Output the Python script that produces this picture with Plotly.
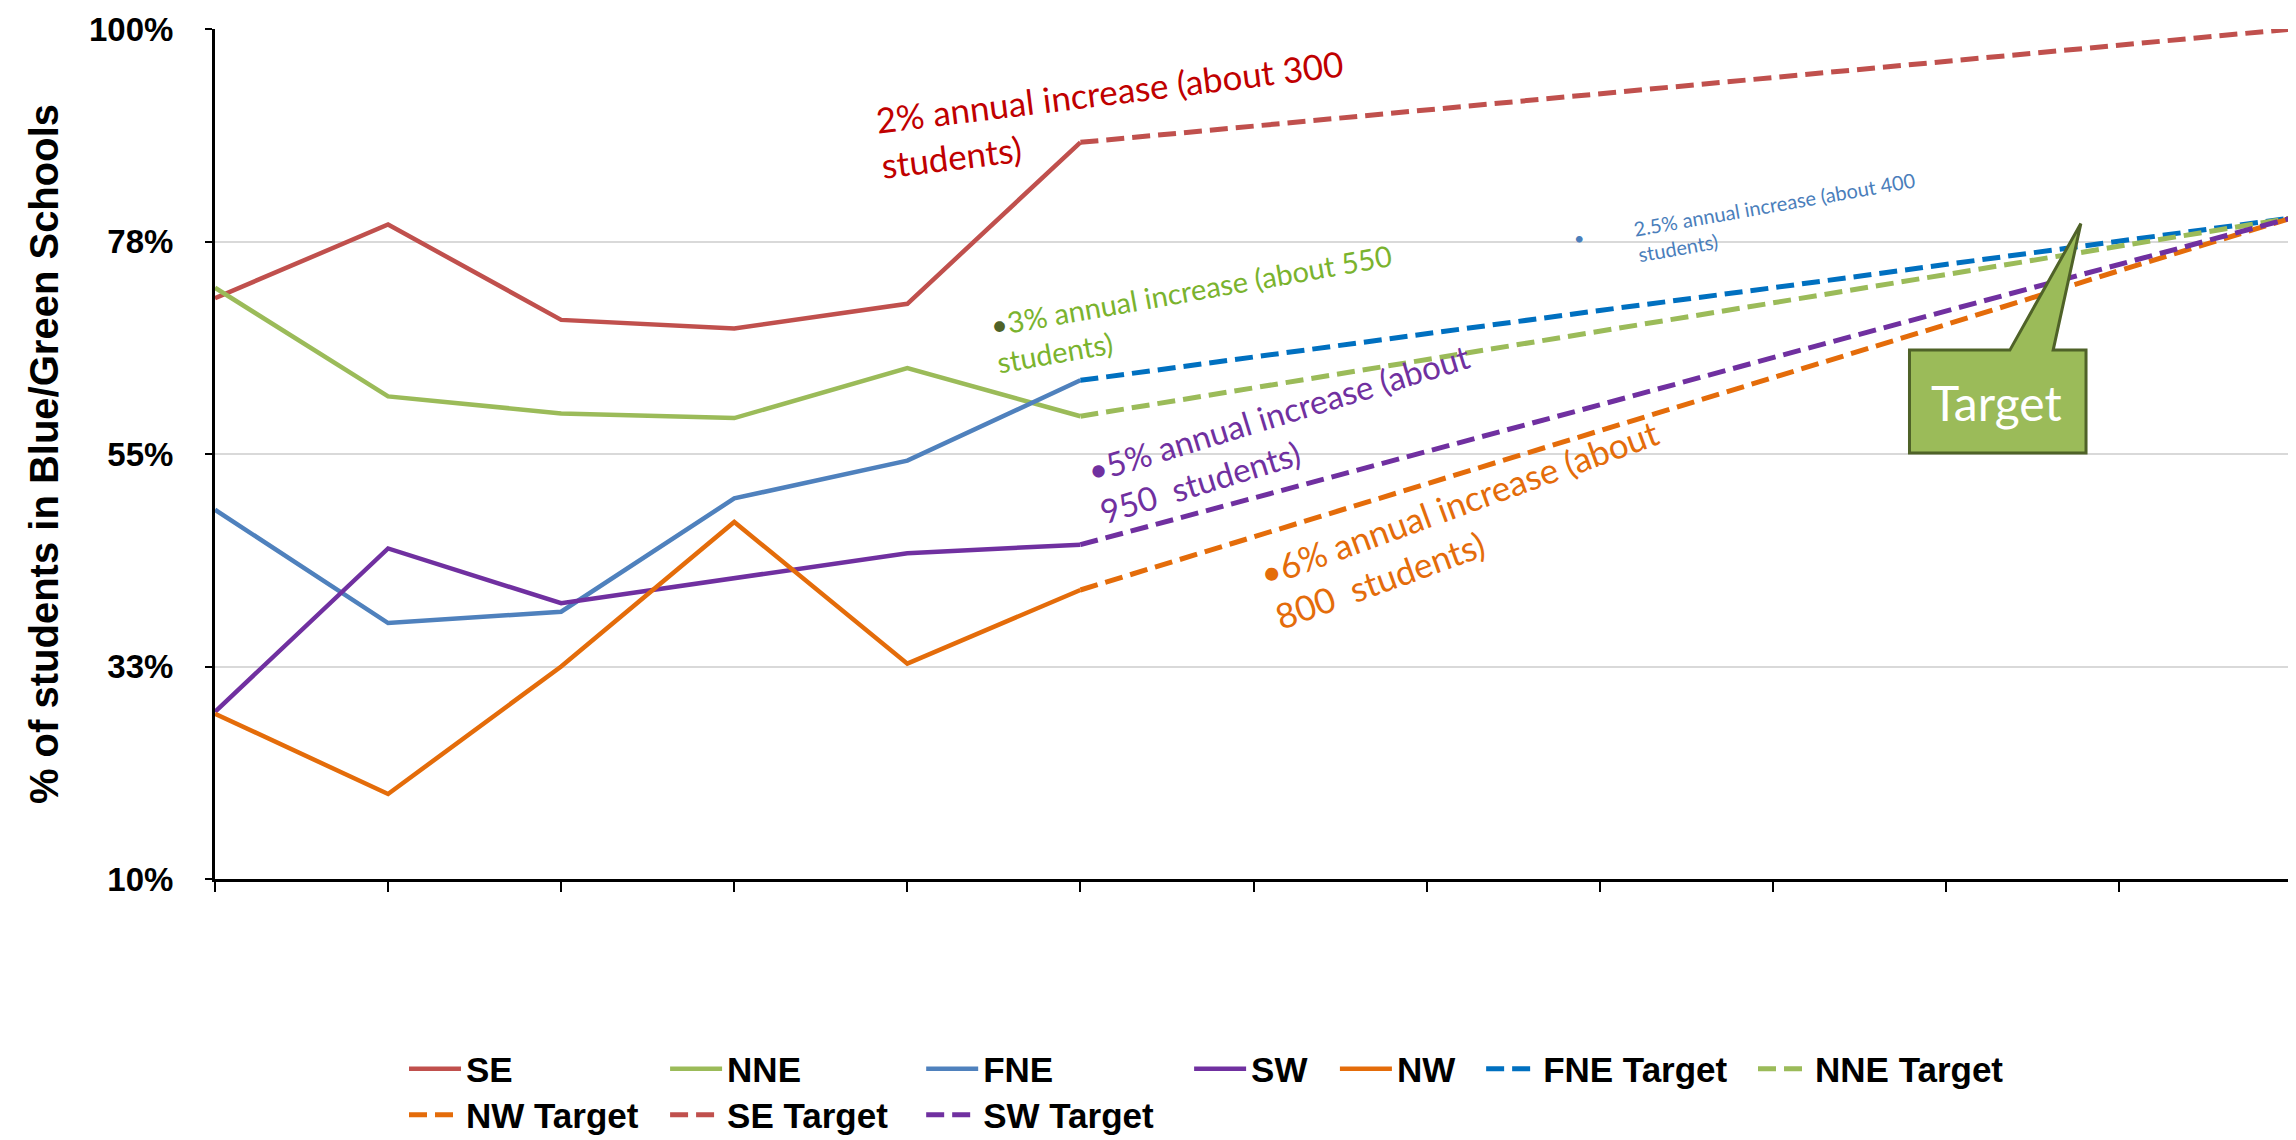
import plotly.graph_objects as go

# ---- data ----
x_actual = [0, 1, 2, 3, 4, 5]
x_target = [5, 6, 7, 8, 9, 10, 11, 12]

SE = [71.5, 79.3, 69.2, 68.3, 70.9, 88.0]
NNE = [72.6, 61.1, 59.3, 58.8, 64.1, 59.0]
FNE = [49.1, 37.1, 38.3, 50.3, 54.3, 62.8]
SW = [27.7, 45.0, 39.2, 41.9, 44.5, 45.4]
NW = [27.5, 19.0, 32.5, 47.8, 32.8, 40.6]

FNE_T = [62.8, 65.3, 67.7, 70.2, 72.6, 75.1, 77.6, 80.0]
NNE_T = [59.0, 62.0, 65.0, 68.0, 71.0, 74.0, 77.0, 80.0]
NW_T = [40.6, 46.2, 51.8, 57.4, 63.1, 68.7, 74.4, 80.0]
SE_T = [88.0, 89.7, 91.4, 93.1, 94.9, 96.6, 98.3, 100.0]
SW_T = [45.4, 50.3, 55.3, 60.2, 65.2, 70.1, 75.1, 80.0]

y_tickvals = [10, 32.5, 55, 77.5, 100]
y_ticktext = ["10%", "33%", "55%", "78%", "100%"]

C_SE, C_NNE, C_FNE, C_SW, C_NW = "#C0504D", "#9BBB59", "#4F81BD", "#7030A0", "#E46C0A"
C_FNE_T = "#0070C0"

BOLD = "Liberation Sans, Arial, sans-serif"
ANN = "Lato, Open Sans, sans-serif"

# legend placement: (legend id, paper x, paper y)
ROW1, ROW2 = -0.2235, -0.2776
series = [
    ("SE", x_actual, SE, C_SE, None, "legend", 0.0910, ROW1),
    ("NNE", x_actual, NNE, C_NNE, None, "legend2", 0.2167, ROW1),
    ("FNE", x_actual, FNE, C_FNE, None, "legend3", 0.3400, ROW1),
    ("SW", x_actual, SW, C_SW, None, "legend4", 0.4690, ROW1),
    ("NW", x_actual, NW, C_NW, None, "legend5", 0.5392, ROW1),
    ("FNE Target", x_target, FNE_T, C_FNE_T, "18px,8px", "legend6", 0.6096, ROW1),
    ("NNE Target", x_target, NNE_T, C_NNE, "18px,8px", "legend7", 0.7405, ROW1),
    ("NW Target", x_target, NW_T, C_NW, "18px,8px", "legend8", 0.0910, ROW2),
    ("SE Target", x_target, SE_T, C_SE, "18px,8px", "legend9", 0.2167, ROW2),
    ("SW Target", x_target, SW_T, C_SW, "18px,8px", "legend10", 0.3400, ROW2),
]

fig = go.Figure()
legend_layouts = {}
for name, xs, vals, col, dash, lg, lx, ly in series:
    line = dict(color=col, width=4.5 if dash is None else 5)
    if dash:
        line["dash"] = dash
    fig.add_trace(go.Scatter(x=xs, y=vals, mode="lines", name=name, line=line,
                             cliponaxis=False, legend=lg, hoverinfo="skip"))
    legend_layouts[lg] = dict(orientation="h", x=lx, y=ly, xanchor="left", yanchor="middle",
                              itemwidth=52, bgcolor="rgba(0,0,0,0)",
                              font=dict(family=BOLD, size=35, color="black", weight="bold"))

# Target callout shape
fig.add_shape(type="path",
              path="M 9.79,66 L 10.37,66 L 10.78,79.4 L 10.62,66 L 10.81,66 L 10.81,55.1 L 9.79,55.1 Z",
              xref="x", yref="y", fillcolor="#9BBB59",
              line=dict(color="#4F6228", width=3), layer="above")

annots = [
    dict(text="2% annual increase (about 300<br>students)", x=5.18, y=91.0, textangle=-7,
         font=dict(color="#C00000", size=35, family=ANN)),
    dict(text="<span style='color:#4F6228'>•</span>3% annual increase (about 550<br>students)",
         x=5.66, y=70.4, textangle=-10,
         font=dict(color="#7AB32E", size=29, family=ANN)),
    dict(text="2.5% annual increase (about 400<br>students)", x=9.02, y=80.1, textangle=-10,
         font=dict(color="#4A7EBB", size=20, family=ANN)),
    dict(text="•5% annual increase (about<br>950  students)", x=6.18, y=57.2, textangle=-17,
         font=dict(color="#7030A0", size=33, family=ANN)),
    dict(text="•6% annual increase (about<br>800  students)", x=7.23, y=47.6, textangle=-20,
         font=dict(color="#E46C0A", size=35, family=ANN)),
    dict(text="•", x=7.88, y=77.9, textangle=0,
         font=dict(color="#4A7EBB", size=18, family=ANN)),
    dict(text="Target", x=10.29, y=60.5, textangle=0,
         font=dict(color="white", size=48, family=ANN)),
]
for a in annots:
    fig.add_annotation(xref="x", yref="y", showarrow=False, align="left",
                       xanchor="center", yanchor="middle", **a)

fig.add_annotation(text="<b>% of students in Blue/Green Schools</b>", xref="paper", yref="paper",
                   x=-0.0823, y=0.5, textangle=-90, showarrow=False,
                   xanchor="center", yanchor="middle",
                   font=dict(family=BOLD, size=40, color="black"))

# page body has an 8px margin: size the figure so the plot lands where the reference has it
fig.update_layout(
    width=2288, height=1132,
    margin=dict(l=207, r=4, t=21, b=261, autoexpand=False),
    plot_bgcolor="white", paper_bgcolor="white",
    showlegend=True,
    **legend_layouts,
)
fig.update_xaxes(range=[0, 12], tickvals=list(range(13)), showticklabels=False,
                 ticks="outside", ticklen=10, tickwidth=2, tickcolor="black",
                 showline=True, linecolor="black", linewidth=3, showgrid=False,
                 zeroline=False)
fig.update_yaxes(range=[10, 100], tickvals=y_tickvals, ticktext=y_ticktext,
                 ticks="outside", ticklen=7, tickwidth=2, tickcolor="black",
                 showline=True, linecolor="black", linewidth=3,
                 showgrid=True, gridcolor="#D9D9D9", gridwidth=2, zeroline=False,
                 ticklabelstandoff=25,
                 tickfont=dict(family=BOLD, size=33, color="black", weight="bold"))

fig.write_html("out.html")
